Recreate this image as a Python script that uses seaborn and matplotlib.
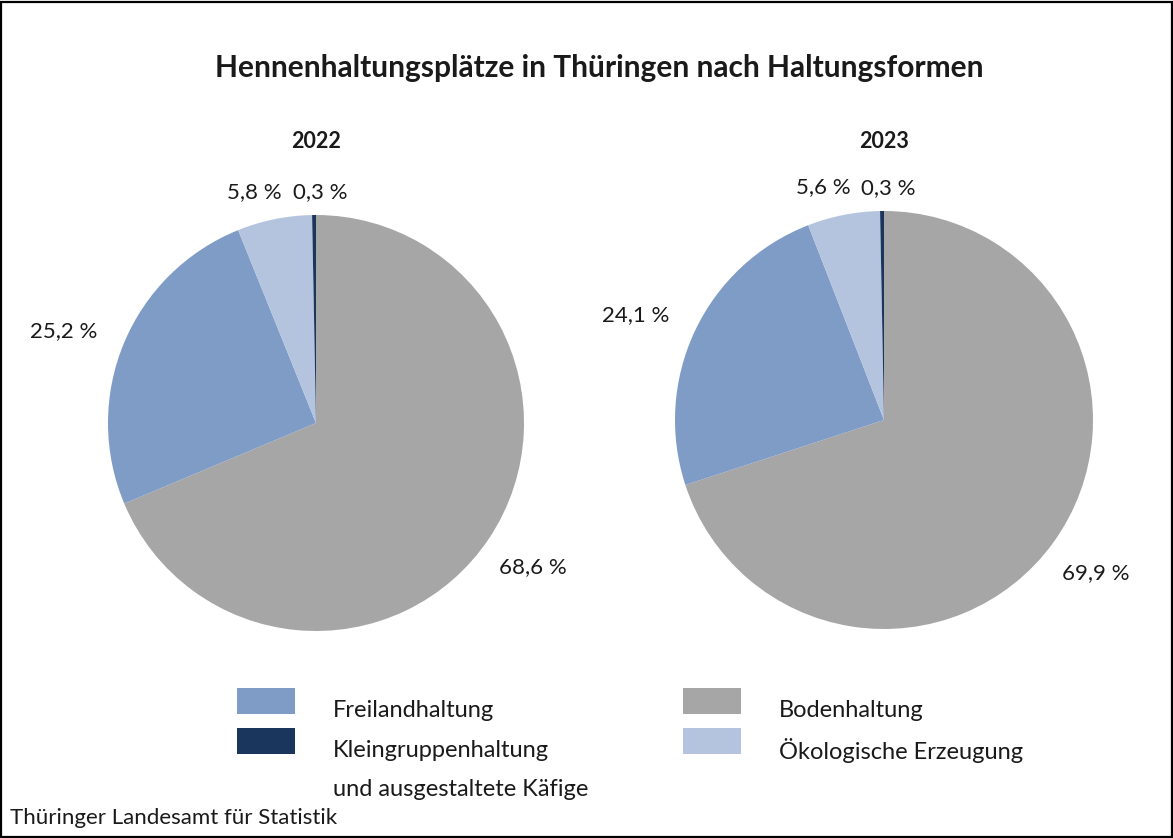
import numpy as np
import matplotlib
matplotlib.use("Agg")
import matplotlib.pyplot as plt
import seaborn as sb
from matplotlib.patches import Rectangle

#%% Daten

jahre = ["2022", "2023"]
kategorien = ["Bodenhaltung", "Freilandhaltung", "Ökologische Erzeugung",
              "Kleingruppenhaltung\nund ausgestaltete Käfige"]
anteile_2022 = [68.6, 25.2, 5.8, 0.3]
anteile_2023 = [69.9, 24.1, 5.6, 0.3]
farben = ["#a6a6a6", "#7f9cc7", "#b4c3de", "#1a365d"]

#%% Stil

sb.set_theme(style="white")
plt.rcParams['font.family'] = ['Lato', 'DejaVu Sans']

W, H = 1173, 838
fig = plt.figure(figsize=(W/100, H/100), dpi=100)

# Rahmen um die Grafik
fig.patches.append(Rectangle((0.001, 0.001), 0.998, 0.997, transform=fig.transFigure,
                             fill=False, edgecolor="black", linewidth=1.6))

fig.text(599/W, 1-68/H, "Hennenhaltungsplätze in Thüringen nach Haltungsformen",
         ha="center", va="center", fontsize=21.5, fontweight="bold", color="#1a1a1a")

# Mittelpunkte und Radien der Kreise in Pixeln
mitten = [(316, 423), (884, 420)]
radien = [208, 209]
# Abstand der Beschriftung (in Radien) und Winkelverschiebung je Segment
lab_dist = [1.25, 1.29, 1.15, 1.11]
lab_shift = [0, 2.5, 3.5, -1.5]

for jahr, werte, (cx, cy), r in zip(jahre, [anteile_2022, anteile_2023], mitten, radien):
    lim = 1.5
    w = 2*lim*r
    ax = fig.add_axes([(cx - w/2)/W, 1 - (cy + w/2)/H, w/W, w/H])
    wedges, _ = ax.pie(werte, colors=farben, startangle=90, counterclock=False,
                       wedgeprops=dict(linewidth=0))
    ax.set_xlim(-lim, lim)
    ax.set_ylim(-lim, lim)
    ax.set_aspect("equal")
    ax.axis("off")
    for wd, v, d, s in zip(wedges, werte, lab_dist, lab_shift):
        mid = np.deg2rad((wd.theta1 + wd.theta2)/2 + s)
        ax.text(d*np.cos(mid), d*np.sin(mid), f"{v:.1f} %".replace(".", ","),
                ha="center", va="center", fontsize=16, color="#1a1a1a")
    fig.text(cx/W, 1-142/H, jahr, ha="center", va="center", fontsize=15.5,
             fontweight="bold", color="#1a1a1a")

#%% Legende (2 Spalten)

leg_reihenfolge = [1, 0, 3, 2]   # Freiland, Boden, Kleingruppen, Öko
spalten_x = [237, 683]
zeilen_y = [701, 741]
for i, k in enumerate(leg_reihenfolge):
    sx = spalten_x[i % 2]
    zy = zeilen_y[i // 2]
    fig.patches.append(Rectangle((sx/W, 1-(zy+13)/H), 58/W, 26/H, transform=fig.transFigure,
                                 facecolor=farben[k], edgecolor="none"))
    for j, zeile in enumerate(kategorien[k].split("\n")):
        fig.text((sx+96)/W, 1-(zy+9+39*j)/H, zeile, ha="left", va="center", fontsize=17,
                 color="#1a1a1a")

fig.text(10/W, 1-818/H, "Thüringer Landesamt für Statistik", ha="left", va="center",
         fontsize=16, color="#1a1a1a")

fig.savefig("out.png", dpi=100)
